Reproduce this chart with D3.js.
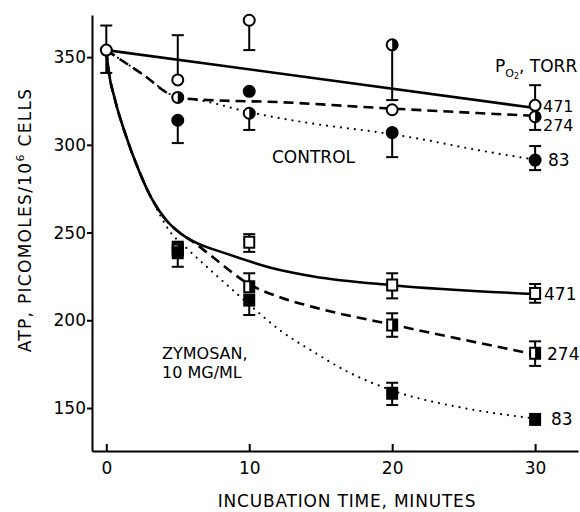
<!DOCTYPE html>
<html><head><meta charset="utf-8">
<script src="https://cdn.jsdelivr.net/npm/d3@7"></script>
<style>
body{margin:0;background:#fff}
svg{display:block}
text{font-family:"DejaVu Sans",sans-serif;fill:#000}
</style>
</head><body>
<svg width="580" height="512"></svg>
<script>
// ---------- DATA ----------
const xTicks = [0, 10, 20, 30];
const yTicks = [150, 200, 250, 300, 350];
const pO2Levels = ["471", "274", "83"];

// Control (circles) — measured points, times 0,5,10,20,30
const ctlTimes = [0, 5, 10, 20, 30];
const ctl471 = [354, 337, 371, 320, 322.5];
const ctl471Hi = [368, 362.5, null, null, 334];
const ctl471Lo = [341, null, 354, null, null];
const ctl274 = [null, 327, 318, 357, 316];
const ctl274Hi = [null, null, null, null, null];
const ctl274Lo = [null, null, 308.5, 325.5, 308.5];
const ctl83 = [null, 314, 330.5, 307, 291.3];
const ctl83Hi = [null, null, null, null, 299.3];
const ctl83Lo = [null, 301, null, 293, 285.6];

// Zymosan (squares) — times 5,10,20,30
const zymTimes = [5, 10, 20, 30];
const zym471 = [241, 244.5, 220.1, 215.3];
const zym471Hi = [null, 249.1, 226.8, 220.7];
const zym471Lo = [null, 239, 212.5, 210];
const zym274 = [240, 219.1, 197.3, 181.2];
const zym274Hi = [null, 226.8, 204, 188];
const zym274Lo = [null, null, 190.6, 174];
const zym83 = [238.5, 211.5, 158.4, 143.5];
const zym83Hi = [244.8, null, 164.4, null];
const zym83Lo = [230.5, 203, 151.7, null];

// Fitted curves [time, ATP]
const ctlFit471 = [[0, 354], [30, 321]];
const ctlFit274 = [[0, 354], [2.4, 341], [5, 327], [6.5, 325.8], [12.2, 324.3], [19.2, 321], [30, 316.5]];
const ctlFit83 = [[0, 354], [2.4, 341], [5, 327], [6.6, 325.3], [9.8, 319], [14.5, 312], [19.2, 307], [21.5, 304], [26, 297], [30, 291.5]];
const zymFit471 = [[0, 354], [0.15, 343], [0.6, 326], [1.3, 307], [2.3, 285], [3.2, 269], [4.2, 257], [5.2, 249.5], [6.1, 245], [8.4, 238], [11.5, 230], [14.5, 225], [20, 220], [30, 215]];
const zymFit274 = [[0, 354], [0.15, 343], [0.6, 326], [1.3, 307], [2.3, 285], [3.2, 269], [4.2, 257], [5.2, 249.5], [6.1, 244.5], [7.3, 237], [9.9, 221], [12.2, 213], [14.5, 207.5], [20.6, 196.5], [30, 180.5]];
const zymFit83 = [[0, 354], [0.15, 343], [0.6, 326], [1.3, 307], [2.3, 285], [3.2, 269], [4.5, 250], [5.5, 242], [7.5, 227], [10, 209], [12.2, 194], [14.5, 182], [16.8, 171], [20, 160], [25, 150], [30, 144]];

// ---------- CHART ----------
const svg = d3.select("svg");
const x = d3.scaleLinear().domain([-1, 33]).range([92, 578]);
const y = d3.scaleLinear().domain([125.5, 374]).range([451, 15]);

// Y axis
const gy = svg.append("g").attr("transform", "translate(92,0)")
  .call(d3.axisLeft(y).tickValues(yTicks).tickSize(5).tickSizeOuter(0).tickPadding(1));
gy.attr("font-size", 17).attr("font-family", "DejaVu Sans");
gy.select(".domain").attr("stroke-width", 2);
gy.selectAll(".tick line").attr("stroke-width", 2);

// X axis (ticks pointing up)
const gx = svg.append("g").attr("transform", "translate(0,451)")
  .call(d3.axisBottom(x).tickValues(xTicks).tickSizeInner(-7).tickSizeOuter(0).tickPadding(11));
gx.attr("font-size", 17).attr("font-family", "DejaVu Sans");
gx.select(".domain").attr("stroke-width", 2);
gx.selectAll(".tick line").attr("stroke-width", 2);

// Axis titles
svg.append("text").attr("x", 347).attr("y", 507).attr("text-anchor", "middle")
  .attr("font-size", 17).attr("letter-spacing", 0.8).text("INCUBATION TIME, MINUTES");
const yt = svg.append("text").attr("transform", "translate(31,220) rotate(-90)")
  .attr("text-anchor", "middle").attr("font-size", 17).attr("letter-spacing", 1.3);
yt.append("tspan").text("ATP, PICOMOLES/10");
yt.append("tspan").attr("font-size", 11).attr("dy", -7).text("6");
yt.append("tspan").attr("dy", 7).text(" CELLS");

// Curves
const line = d3.line().x(d => x(d[0])).y(d => y(d[1])).curve(d3.curveMonotoneX);
const styles = {
  solid: {w: 2.6, dash: null, cap: "butt"},
  dashed: {w: 2.6, dash: "10,6", cap: "butt"},
  dotted: {w: 2.2, dash: "0,7", cap: "round"}
};
function curve(data, st) {
  const s = styles[st];
  svg.append("path").attr("d", line(data)).attr("fill", "none").attr("stroke", "#000")
    .attr("stroke-width", s.w).attr("stroke-dasharray", s.dash).attr("stroke-linecap", s.cap);
}
curve(ctlFit471, "solid");
curve(ctlFit274, "dashed");
curve(ctlFit83, "dotted");
curve(zymFit471, "solid");
curve(zymFit274, "dashed");
curve(zymFit83, "dotted");

// Error bars
function errBars(times, vals, his, los) {
  times.forEach((t, i) => {
    if (vals[i] == null) return;
    [his[i], los[i]].forEach(e => {
      if (e == null) return;
      svg.append("line").attr("x1", x(t)).attr("x2", x(t)).attr("y1", y(vals[i])).attr("y2", y(e))
        .attr("stroke", "#000").attr("stroke-width", 2);
      svg.append("line").attr("x1", x(t) - 6).attr("x2", x(t) + 6).attr("y1", y(e)).attr("y2", y(e))
        .attr("stroke", "#000").attr("stroke-width", 2);
    });
  });
}
errBars(ctlTimes, ctl471, ctl471Hi, ctl471Lo);
errBars(ctlTimes, ctl274, ctl274Hi, ctl274Lo);
errBars(ctlTimes, ctl83, ctl83Hi, ctl83Lo);
errBars(zymTimes, zym471, zym471Hi, zym471Lo);
errBars(zymTimes, zym274, zym274Hi, zym274Lo);
errBars(zymTimes, zym83, zym83Hi, zym83Lo);

// Markers
function markers(times, vals, shape, fill) {
  times.forEach((t, i) => {
    if (vals[i] == null) return;
    const cx = x(t), cy = y(vals[i]);
    const g = svg.append("g");
    if (shape === "circle") {
      const r = 5.5;
      g.append("circle").attr("cx", cx).attr("cy", cy).attr("r", r)
        .attr("fill", fill === "full" ? "#000" : "#fff").attr("stroke", "#000").attr("stroke-width", 2);
      if (fill === "half") {
        g.append("path").attr("d", `M${cx},${cy - r} A${r},${r} 0 0 1 ${cx},${cy + r} Z`).attr("fill", "#000");
      }
    } else {
      const w = 10, h = 11;
      g.append("rect").attr("x", cx - w / 2).attr("y", cy - h / 2).attr("width", w).attr("height", h)
        .attr("fill", fill === "full" ? "#000" : "#fff").attr("stroke", "#000").attr("stroke-width", 2);
      if (fill === "half") {
        g.append("rect").attr("x", cx).attr("y", cy - h / 2).attr("width", w / 2).attr("height", h).attr("fill", "#000");
      }
    }
  });
}
markers(ctlTimes, ctl274, "circle", "half");
markers(ctlTimes, ctl83, "circle", "full");
markers(ctlTimes, ctl471, "circle", "open");
markers(zymTimes, zym471, "square", "open");
markers(zymTimes, zym274, "square", "half");
markers(zymTimes, zym83, "square", "full");

// Series labels
const lab = (tx, ty, s, fs) => svg.append("text").attr("x", tx).attr("y", ty).attr("font-size", fs || 17).text(s);
lab(543, 112, pO2Levels[0], 16);
lab(543, 131, pO2Levels[1], 16);
lab(548, 166, pO2Levels[2]);
lab(544, 300, pO2Levels[0]);
lab(547, 360, pO2Levels[1]);
lab(551, 425, pO2Levels[2]);

// Annotations
lab(272, 163, "CONTROL");
lab(162, 359, "ZYMOSAN,", 16);
lab(162, 378, "10 MG/ML", 16);
const po = svg.append("text").attr("x", 495).attr("y", 72).attr("font-size", 17);
po.append("tspan").text("P");
po.append("tspan").attr("font-size", 11).attr("dy", 5).text("O");
po.append("tspan").attr("font-size", 8).attr("dy", 2).text("2");
po.append("tspan").attr("dy", -7).text(", TORR");
</script>
</body></html>
